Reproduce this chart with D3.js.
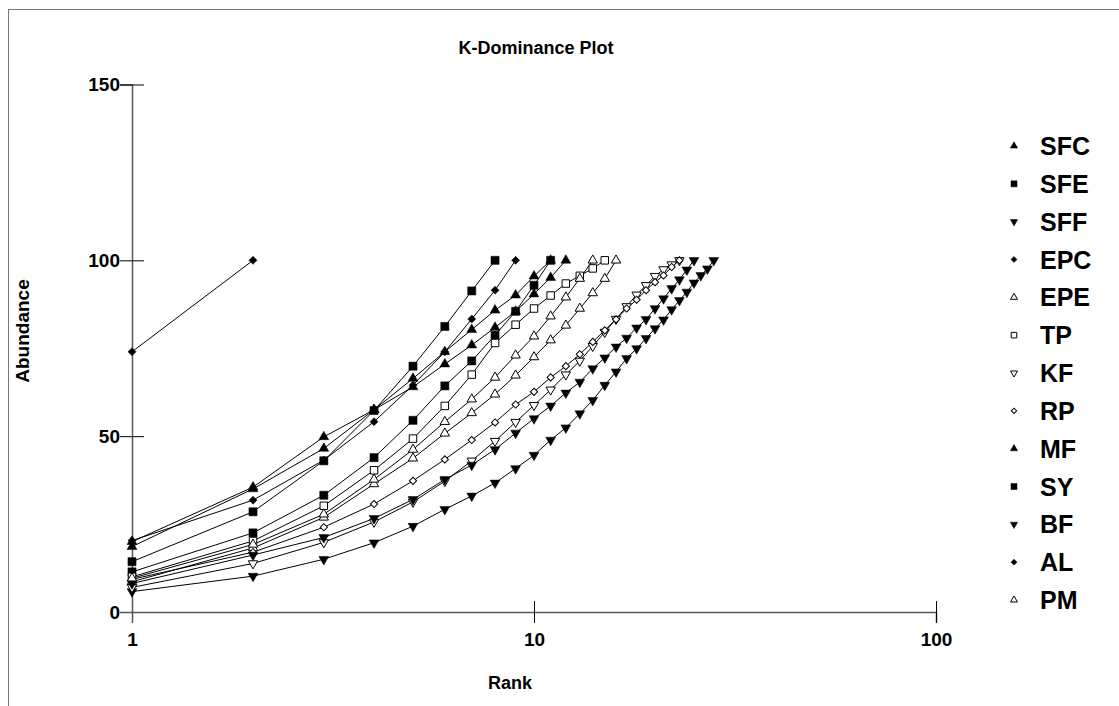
<!DOCTYPE html>
<html>
<head>
<meta charset="utf-8">
<script src="https://cdn.jsdelivr.net/npm/d3@7"></script>
<style>
  body { margin: 0; background: #fff; }
  text { font-family: "Liberation Sans", Arial, sans-serif; font-weight: bold; fill: #000; }
</style>
</head>
<body>
<svg id="chart" width="1119" height="706"></svg>
<script>
// Cumulative abundance (%) by species rank, one array per site
const SFC = [20.0, 35.5, 49.8, 57.5, 64.0, 70.5, 75.9, 80.9, 85.5, 90.4, 95.1, 100];
const SFE = [11.4, 22.5, 33.2, 43.9, 54.5, 64.3, 71.4, 78.7, 85.5, 92.9, 100];
const SFF = [5.8, 10.2, 15.0, 19.7, 24.4, 29.2, 33.0, 36.7, 40.8, 44.6, 48.9, 52.4, 56.4, 60.2,
             64.5, 68.3, 72.1, 74.9, 77.8, 80.6, 83.1, 86.0, 88.6, 91.0, 93.6, 95.7, 97.6, 100];
const EPC = [20.3, 31.8, 43.2, 54.1, 64.5, 74.0, 83.3, 91.5, 100];
const EPE = [8.6, 18.2, 26.9, 36.4, 43.7, 50.8, 56.6, 61.9, 67.3, 72.5, 77.3, 81.5, 86.3, 90.7, 94.8, 100];
const TP  = [10.0, 20.2, 30.2, 40.3, 49.3, 58.6, 67.5, 76.5, 81.7, 86.3, 90.0, 93.4, 95.6, 97.7, 100];
const KF  = [7.0, 13.8, 19.8, 25.6, 31.3, 37.2, 43.0, 48.6, 54.0, 58.8, 63.2, 67.5, 71.4, 75.6,
             79.6, 83.3, 86.9, 90.2, 92.9, 95.5, 97.4, 98.8, 100];
const RP  = [9.3, 17.0, 24.1, 30.7, 37.3, 43.4, 48.9, 53.9, 59.0, 62.6, 66.7, 69.9, 73.3, 76.8,
             80.1, 83.2, 86.3, 88.8, 91.5, 93.8, 95.7, 98.1, 100];
const MF  = [18.6, 35.0, 46.5, 57.5, 66.4, 74.0, 80.3, 85.8, 90.1, 95.5, 100];
const SY  = [14.3, 28.5, 43.0, 57.3, 69.9, 81.2, 91.3, 100];
const BF  = [8.1, 16.2, 21.2, 26.6, 32.0, 37.7, 41.8, 46.2, 50.9, 55.0, 58.6, 62.3, 65.4, 69.2,
             72.3, 75.4, 77.9, 80.8, 83.2, 86.3, 89.1, 92.0, 94.5, 97.3, 100];
const AL  = [74.0, 100];
const PM  = [9.6, 19.2, 27.8, 37.7, 46.2, 54.1, 60.5, 66.7, 73.0, 78.4, 84.1, 89.5, 94.8, 100];

const seriesNames = ["SFC", "SFE", "SFF", "EPC", "EPE", "TP", "KF", "RP", "MF", "SY", "BF", "AL", "PM"];
const seriesValues = [SFC, SFE, SFF, EPC, EPE, TP, KF, RP, MF, SY, BF, AL, PM];
const seriesMarkers = ["triUp", "square", "triDown", "diamond", "triUpOpen", "squareOpen", "triDownOpen",
                       "diamondOpen", "triUp", "square", "triDown", "diamond", "triUpOpen"];

const xTicks = [1, 10, 100];
const yTicks = [0, 50, 100, 150];

const svg = d3.select("#chart");
svg.append("rect").attr("width", 1119).attr("height", 706).attr("fill", "#fff");

// outer frame (runs past the right and bottom edges)
svg.append("rect")
  .attr("x", 8.5).attr("y", 9.5).attr("width", 1300).attr("height", 900)
  .attr("fill", "none").attr("stroke", "#777").attr("stroke-width", 1);

const x = d3.scaleLog().domain([1, 100]).range([132, 936]);
const y = d3.scaleLinear().domain([0, 150]).range([612, 84.5]);

// marker generator
function markerPath(type, scale) {
  const s = scale || 1;
  if (type.startsWith("triUp") || type.startsWith("triDown"))
    return d3.symbol(d3.symbolTriangle, (type.endsWith("Open") ? 38 : 42) * s)();
  if (type.startsWith("square"))
    return d3.symbol(d3.symbolSquare, (type.endsWith("Open") ? 56 : 66) * s)();
  return d3.symbol(d3.symbolSquare, (type.endsWith("Open") ? 26 : 32) * s)();
}
function markerRotate(type) {
  if (type.startsWith("triDown")) return 180;
  if (type.startsWith("diamond")) return 45;
  return 0;
}
function styleMarker(sel, type) {
  const open = type.endsWith("Open");
  sel.attr("fill", open ? "#fff" : "#000")
     .attr("stroke", "#000")
     .attr("stroke-width", open ? 1 : 0.5);
}

const fontStack = "'Liberation Sans', Arial, sans-serif";

// axes
const xAxis = d3.axisBottom(x).tickValues(xTicks).tickFormat(d3.format("d")).tickSizeOuter(0).tickSize(11);
const gx = svg.append("g").attr("transform", "translate(0,612)").call(xAxis);
gx.select(".domain").attr("stroke", "#555").attr("stroke-width", 1.5);
gx.selectAll(".tick line").attr("y1", -11).attr("y2", 11).attr("stroke", "#000")
  .attr("display", d => d === 1 ? "none" : null);
gx.selectAll(".tick text").attr("y", 21).attr("dy", "0.71em")
  .style("font-size", "19px").style("font-family", fontStack).style("font-weight", "bold");

const yAxis = d3.axisLeft(y).tickValues(yTicks).tickSizeOuter(0).tickSize(12);
const gy = svg.append("g").attr("transform", "translate(132,0)").call(yAxis);
gy.select(".domain").attr("stroke", "#555").attr("stroke-width", 1.5);
gy.selectAll(".tick line").attr("x1", -12).attr("x2", 12).attr("stroke", "#000")
  .attr("display", d => d === 0 ? "none" : null);
gy.selectAll(".tick text").attr("x", -12)
  .style("font-size", "19px").style("font-family", fontStack).style("font-weight", "bold");

// curves
const line = d3.line().x((d, i) => x(i + 1)).y(d => y(d));
const plot = svg.append("g");
seriesValues.forEach(vals => {
  plot.append("path").attr("d", line(vals))
    .attr("fill", "none").attr("stroke", "#000").attr("stroke-width", 1);
});
seriesValues.forEach((vals, k) => {
  const type = seriesMarkers[k];
  plot.append("g").selectAll("path").data(vals).join("path")
    .attr("d", markerPath(type))
    .attr("transform", (d, i) => `translate(${x(i + 1)},${y(d)}) rotate(${markerRotate(type)})`)
    .call(styleMarker, type);
});

// titles
svg.append("text").attr("x", 536).attr("y", 54).attr("text-anchor", "middle")
  .style("font-size", "18px").text("K-Dominance Plot");
svg.append("text").attr("x", 510).attr("y", 689).attr("text-anchor", "middle")
  .style("font-size", "18px").text("Rank");
svg.append("text").attr("transform", "translate(29,331) rotate(-90)").attr("text-anchor", "middle")
  .style("font-size", "19px").text("Abundance");

// legend
const legendY = d3.scalePoint().domain(seriesNames).range([146, 600]);
const lg = svg.append("g");
seriesNames.forEach((name, k) => {
  const type = seriesMarkers[k];
  lg.append("path").attr("d", markerPath(type, 0.55))
    .attr("transform", `translate(1014,${legendY(name)}) rotate(${markerRotate(type)})`)
    .call(styleMarker, type);
  lg.append("text").attr("x", 1040).attr("y", legendY(name)).attr("dy", "0.36em")
    .style("font-size", "25px").text(name);
});
</script>
</body>
</html>
